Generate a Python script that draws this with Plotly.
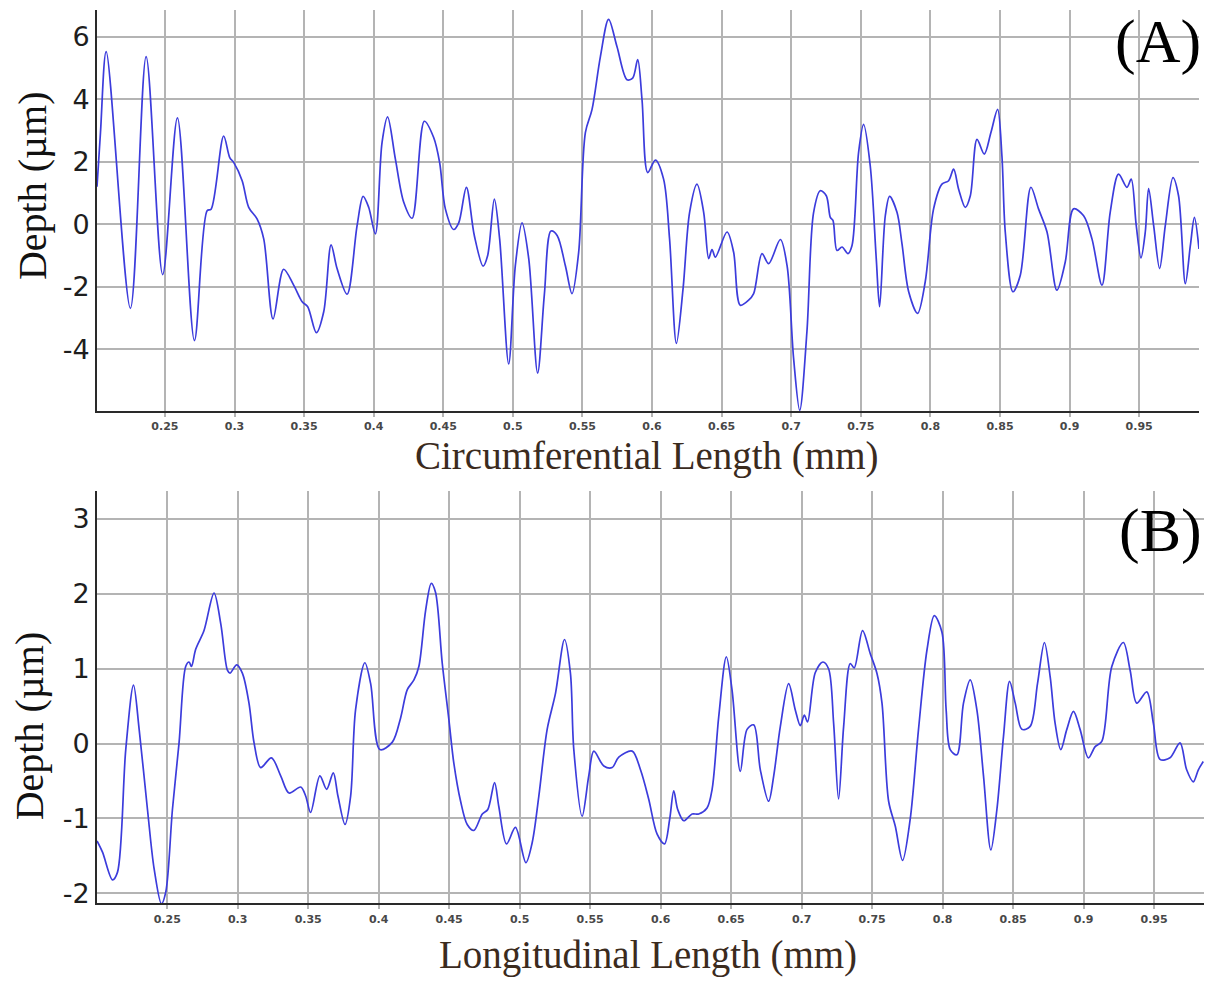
import plotly.graph_objects as go

# ---------------- data ----------------
top_x = [0.2012, 0.2037, 0.2078, 0.2252, 0.2365, 0.2484, 0.2590, 0.2712, 0.2803, 0.2832,
         0.2922, 0.2966, 0.2995, 0.3055, 0.3102, 0.3162, 0.3210, 0.3277, 0.3353, 0.3425,
         0.3486, 0.3526, 0.3588, 0.3641, 0.3694, 0.3737, 0.3809, 0.3881, 0.3924, 0.3964,
         0.4012, 0.4060, 0.4100, 0.4156, 0.4216, 0.4276, 0.4364, 0.4431, 0.4474, 0.4515,
         0.4575, 0.4611, 0.4666, 0.4723, 0.4786, 0.4819, 0.4867, 0.4905, 0.4970, 0.5018,
         0.5066, 0.5114, 0.5178, 0.5226, 0.5274, 0.5318, 0.5377, 0.5425, 0.5473, 0.5521,
         0.5569, 0.5629, 0.5688, 0.5748, 0.5820, 0.5861, 0.5897, 0.5928, 0.5969, 0.6024,
         0.6083, 0.6126, 0.6175, 0.6223, 0.6270, 0.6323, 0.6371, 0.6407, 0.6431, 0.6455,
         0.6539, 0.6586, 0.6634, 0.6694, 0.6730, 0.6790, 0.6838, 0.6922, 0.6970, 0.7017,
         0.7061, 0.7113, 0.7161, 0.7209, 0.7252, 0.7281, 0.7300, 0.7329, 0.7365, 0.7408,
         0.7437, 0.7484, 0.7520, 0.7568, 0.7611, 0.7635, 0.7676, 0.7707, 0.7760, 0.7796,
         0.7844, 0.7908, 0.7963, 0.8023, 0.8083, 0.8131, 0.8167, 0.8203, 0.8251, 0.8287,
         0.8335, 0.8387, 0.8435, 0.8483, 0.8514, 0.8538, 0.8593, 0.8646, 0.8722, 0.8777,
         0.8838, 0.8909, 0.8969, 0.9029, 0.9101, 0.9161, 0.9233, 0.9292, 0.9352, 0.9412,
         0.9443, 0.9479, 0.9513, 0.9544, 0.9568, 0.9604, 0.9647, 0.9688, 0.9743, 0.9783,
         0.9832, 0.9868, 0.9897, 0.9930]
top_y = [1.20, 2.93, 5.52, -2.69, 5.36, -1.61, 3.40, -3.72, 0.43, 0.48,
         2.82, 2.13, 1.97, 1.39, 0.54, 0.17, -0.47, -3.03, -1.44, -1.95,
         -2.48, -2.64, -3.47, -2.80, -0.66, -1.42, -2.24, -0.04, 0.89, 0.54,
         -0.31, 2.61, 3.43, 2.08, 0.70, 0.19, 3.29, 2.77, 1.97, 0.49,
         -0.17, 0.04, 1.18, -0.36, -1.34, -1.00, 0.80, -0.47, -4.47, -1.32,
         0.04, -1.10, -4.76, -2.27, -0.22, -0.36, -1.32, -2.22, -0.89, 2.93,
         3.67, 5.36, 6.55, 5.68, 4.62, 4.67, 5.26, 3.98, 1.65, 2.05,
         1.44, -0.47, -3.81, -2.06, 0.38, 1.28, 0.38, -1.10, -0.81, -1.05,
         -0.25, -0.89, -2.59, -2.43, -2.22, -0.94, -1.26, -0.49, -1.32, -4.28,
         -5.95, -3.43, 0.38, 1.07, 0.91, 0.22, 0.12, -0.84, -0.73, -0.94,
         -0.68, 2.29, 3.19, 1.86, -1.10, -2.64, 0.27, 0.89, 0.38, -0.63,
         -2.16, -2.85, -1.84, 0.49, 1.28, 1.39, 1.76, 1.12, 0.54, 0.91,
         2.71, 2.24, 2.93, 3.67, 2.18, -0.25, -2.16, -1.63, 1.18, 0.49,
         -0.25, -2.11, -1.21, 0.49, 0.27, -0.47, -1.95, 0.38, 1.60, 1.18,
         1.44, -0.04, -1.08, -0.25, 1.14, -0.04, -1.42, -0.04, 1.49, 0.91,
         -1.90, -0.68, 0.22, -0.79]

bot_x = [0.2002, 0.2041, 0.2112, 0.2147, 0.2206, 0.2261, 0.2301, 0.2360, 0.2407, 0.2459,
         0.2490, 0.2537, 0.2584, 0.2631, 0.2655, 0.2672, 0.2702, 0.2761, 0.2832, 0.2880,
         0.2927, 0.2945, 0.2993, 0.3033, 0.3080, 0.3116, 0.3163, 0.3239, 0.3305, 0.3364,
         0.3447, 0.3482, 0.3517, 0.3583, 0.3631, 0.3678, 0.3711, 0.3761, 0.3801, 0.3836,
         0.3902, 0.3943, 0.4009, 0.4097, 0.4155, 0.4203, 0.4250, 0.4285, 0.4333, 0.4373,
         0.4403, 0.4451, 0.4498, 0.4533, 0.4581, 0.4628, 0.4675, 0.4735, 0.4774, 0.4822,
         0.4852, 0.4907, 0.4970, 0.5044, 0.5089, 0.5136, 0.5195, 0.5254, 0.5318, 0.5360,
         0.5384, 0.5443, 0.5490, 0.5526, 0.5597, 0.5656, 0.5703, 0.5798, 0.5857, 0.5915,
         0.5975, 0.6027, 0.6064, 0.6093, 0.6121, 0.6164, 0.6223, 0.6270, 0.6329, 0.6365,
         0.6412, 0.6466, 0.6506, 0.6565, 0.6613, 0.6660, 0.6707, 0.6766, 0.6802, 0.6849,
         0.6908, 0.6955, 0.6991, 0.7019, 0.7042, 0.7097, 0.7151, 0.7191, 0.7227, 0.7262,
         0.7298, 0.7345, 0.7373, 0.7432, 0.7487, 0.7534, 0.7570, 0.7617, 0.7664, 0.7716,
         0.7770, 0.7829, 0.7889, 0.7941, 0.7995, 0.8025, 0.8054, 0.8101, 0.8148, 0.8196,
         0.8243, 0.8290, 0.8342, 0.8385, 0.8432, 0.8475, 0.8515, 0.8562, 0.8621, 0.8673,
         0.8722, 0.8763, 0.8798, 0.8838, 0.8881, 0.8928, 0.8975, 0.9034, 0.9082, 0.9129,
         0.9200, 0.9282, 0.9330, 0.9377, 0.9448, 0.9495, 0.9542, 0.9613, 0.9684, 0.9731,
         0.9778, 0.9814, 0.9849]
bot_y = [-1.30, -1.45, -1.82, -1.72, -0.08, 0.78, 0.19, -0.88, -1.67, -2.14,
         -1.98, -0.88, 0.01, 1.03, 1.09, 1.03, 1.26, 1.51, 2.01, 1.60,
         0.98, 0.94, 1.05, 0.94, 0.54, 0.01, -0.32, -0.19, -0.43, -0.66,
         -0.58, -0.70, -0.92, -0.43, -0.61, -0.39, -0.70, -1.08, -0.70, 0.45,
         1.08, 0.80, -0.08, 0.02, 0.34, 0.72, 0.85, 1.03, 1.78, 2.14,
         2.02, 1.07, 0.32, -0.26, -0.77, -1.08, -1.16, -0.94, -0.88, -0.52,
         -0.84, -1.34, -1.12, -1.59, -1.32, -0.70, 0.19, 0.67, 1.39, 0.94,
         -0.08, -0.97, -0.43, -0.10, -0.30, -0.32, -0.18, -0.10, -0.35, -0.74,
         -1.21, -1.34, -1.01, -0.63, -0.88, -1.03, -0.94, -0.94, -0.86, -0.61,
         0.36, 1.16, 0.72, -0.37, 0.19, 0.25, -0.35, -0.77, -0.43, 0.23,
         0.80, 0.45, 0.24, 0.38, 0.29, 0.95, 1.09, 1.00, 0.27, -0.74,
         0.23, 1.07, 1.01, 1.51, 1.20, 0.94, 0.54, -0.77, -1.10, -1.56,
         -1.01, 0.19, 1.25, 1.71, 1.49, 0.45, -0.08, -0.15, 0.54, 0.85,
         0.45, -0.43, -1.42, -0.88, 0.10, 0.83, 0.54, 0.19, 0.23, 0.80,
         1.35, 0.89, 0.27, -0.08, 0.19, 0.43, 0.19, -0.19, -0.04, 0.03,
         1.03, 1.35, 0.98, 0.54, 0.69, 0.27, -0.21, -0.19, 0.01, -0.35,
         -0.51, -0.35, -0.24]

x_ticks = [0.25, 0.3, 0.35, 0.4, 0.45, 0.5, 0.55, 0.6, 0.65, 0.7, 0.75, 0.8, 0.85, 0.9, 0.95]
x_tick_text = ["0.25", "0.3", "0.35", "0.4", "0.45", "0.5", "0.55", "0.6", "0.65", "0.7",
               "0.75", "0.8", "0.85", "0.9", "0.95"]
top_y_ticks = [-4, -2, 0, 2, 4, 6]
top_y_text = ["-4", "-2", "0", "2", "4", "6"]
bot_y_ticks = [-2, -1, 0, 1, 2, 3]
bot_y_text = ["-2", "-1", "0", "1", "2", "3"]

# ---------------- layout geometry ----------------
W, H = 1219, 986
def px(x):
    return x / W
def py(y):
    return 1 - y / H

LINE = "#3c3cdc"
GRID = "#b4b4b4"
AXIS = "#2a2a2a"
TITLE_COLOR = "#3b2b1e"
SERIF = "Liberation Serif, Times New Roman, serif"
SANS = "DejaVu Sans, Open Sans, sans-serif"

fig = go.Figure()
fig.add_trace(go.Scatter(x=top_x, y=top_y, mode="lines", xaxis="x", yaxis="y",
                         line=dict(color=LINE, width=1.7, shape="spline", smoothing=0.9),
                         showlegend=False, hoverinfo="skip"))
fig.add_trace(go.Scatter(x=bot_x, y=bot_y, mode="lines", xaxis="x2", yaxis="y2",
                         line=dict(color=LINE, width=1.7, shape="spline", smoothing=0.9),
                         showlegend=False, hoverinfo="skip"))

xcommon = dict(tickvals=x_ticks, ticktext=x_tick_text, showgrid=True, gridcolor=GRID, gridwidth=1.5,
               showline=True, linecolor=AXIS, linewidth=2, ticks="outside", ticklen=4,
               tickcolor=GRID, tickwidth=1.5, zeroline=False,
               tickfont=dict(family=SANS, size=11, color="#484848", weight="bold"))
ycommon = dict(showgrid=True, gridcolor=GRID, gridwidth=1.5, showline=True, linecolor=AXIS,
               linewidth=2, ticks="", zeroline=False,
               tickfont=dict(family=SANS, size=27, color="#1e1e1e"))

fig.update_layout(
    width=W, height=H, autosize=False,
    margin=dict(l=0, r=0, t=0, b=0),
    paper_bgcolor="white", plot_bgcolor="white",
    xaxis=dict(domain=[px(97), px(1199)], range=[0.2012, 0.993], anchor="y", **xcommon),
    yaxis=dict(domain=[py(413), py(10)], range=[-5.97, 6.85], anchor="x",
               tickvals=top_y_ticks, ticktext=top_y_text, **ycommon),
    xaxis2=dict(domain=[px(97), px(1204)], range=[0.2002, 0.9854], anchor="y2", **xcommon),
    yaxis2=dict(domain=[py(908), py(493)], range=[-2.134, 3.38], anchor="x2",
                tickvals=bot_y_ticks, ticktext=bot_y_text, **ycommon),
)

annotations = [
    dict(text="Circumferential Length (mm)", x=px(647), y=py(458), font=dict(family=SERIF, size=39, color=TITLE_COLOR)),
    dict(text="Longitudinal Length (mm)", x=px(648), y=py(960), font=dict(family=SERIF, size=39, color=TITLE_COLOR)),
    dict(text="Depth (µm)", x=px(32), y=py(187), textangle=-90, font=dict(family=SERIF, size=40, color="#111111")),
    dict(text="Depth (µm)", x=px(29), y=py(730), textangle=-90, font=dict(family=SERIF, size=40, color="#111111")),
    dict(text="(A)", x=px(1158), y=py(42), font=dict(family=SERIF, size=62, color="#000000")),
    dict(text="(B)", x=px(1160), y=py(533), font=dict(family=SERIF, size=62, color="#000000")),
]
for a in annotations:
    a.update(xref="paper", yref="paper", showarrow=False, xanchor="center", yanchor="middle")
fig.update_layout(annotations=annotations)

fig.write_html("out.html")
